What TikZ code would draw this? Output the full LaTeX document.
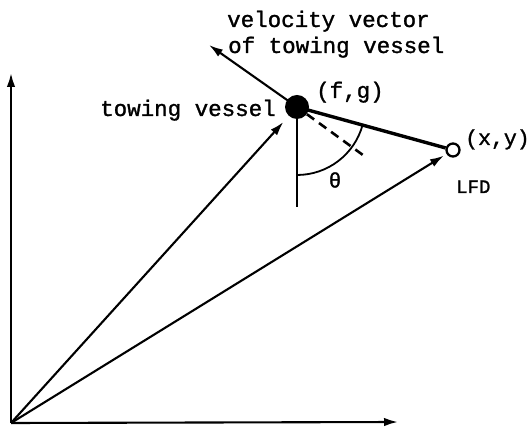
\documentclass[tikz,border=0pt]{standalone}
\usepackage{fontspec}
\setmonofont{Liberation Mono}
\newfontfamily\lblfont[FakeBold=1.3]{Liberation Mono}
\usetikzlibrary{arrows.meta}
\begin{document}
\begin{tikzpicture}[x=1pt,y=1pt,
  thin line/.style={line width=2.1pt},
  arr/.style={thin line,-{Latex[length=14pt,width=8.5pt]}},
  lbl/.style={font=\fontsize{22.5}{26}\selectfont\lblfont, inner sep=0, anchor=base west},
  small lbl/.style={font=\fontsize{19}{22}\selectfont\lblfont, inner sep=0, anchor=base west}]
\useasboundingbox (0,0) rectangle (529,430);
% points
\coordinate (O) at (11,7);
\coordinate (ytip) at (11,357);
\coordinate (xtip) at (398,8);
\coordinate (vtip) at (209,385);
\coordinate (vbot) at (297,223);
\coordinate (dend) at (367,272);
\node[circle,fill,inner sep=0,minimum size=24pt] (tv) at (297,323) {};
\node[circle,draw,fill=white,inner sep=0,minimum size=13pt,line width=2.3pt] (lfd) at (453,280) {};
% axes
\draw[arr] (O) -- (ytip);
\draw[arr] (O) -- (xtip);
% position vectors
\draw[arr,shorten >=8pt] (O) -- (tv);
\draw[arr,shorten >=3pt] (O) -- (lfd);
% velocity vector
\draw[arr] (tv.center) -- (vtip);
% vertical reference
\draw[thin line] (tv.center) -- (vbot);
% dashed line
\draw[line width=2.6pt,dash pattern=on 9pt off 6pt] (tv) -- (dend);
% tow line
\draw[line width=3.4pt] (tv.center) -- (lfd);
% angle arc
\draw[line width=1.8pt] ([shift={(-90:68)}]tv.center) arc[start angle=-90,end angle=-15.4,radius=68];
% labels
\node[lbl] (t1) at (227,403) {velocity vector};
\node[lbl] (t2) at (228,377) {of towing vessel};
\node[lbl] (t3) at (100,314) {towing vessel};
\node[lbl] (t4) at (316,332) {(f,g)};
\node[font=\fontsize{21.5}{25}\selectfont\lblfont, inner sep=0, anchor=base west] (t5) at (465,285) {(x,y)};
\node[small lbl] (t6) at (456,237) {LFD};
\node[font=\fontsize{21}{24}\selectfont\lblfont, inner sep=0] (th) at (335,250) {θ};
\end{tikzpicture}
\end{document}
